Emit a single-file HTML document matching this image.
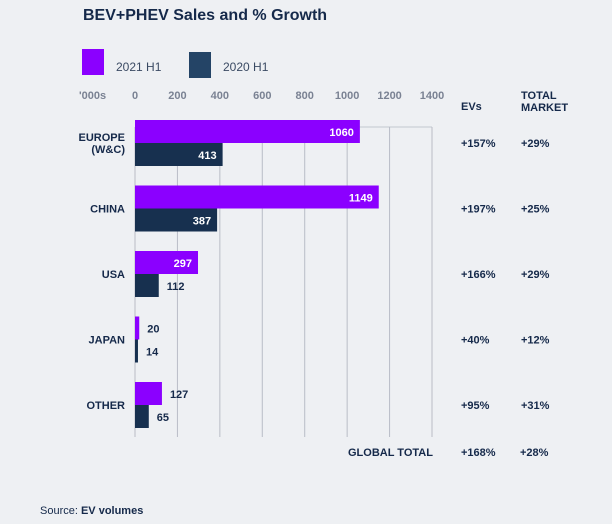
<!DOCTYPE html>
<html><head><meta charset="utf-8"><style>
html,body{margin:0;padding:0;background:#eef0f3;overflow:hidden;width:612px;height:524px;}
svg{display:block;}
svg text{font-family:"Liberation Sans",sans-serif;}
</style></head><body>
<svg width="612" height="524" id="c">
<rect width="612" height="524" fill="#eef0f3"/>
<text x="83" y="20" font-size="16" font-weight="bold" fill="#15294a">BEV+PHEV Sales and % Growth</text>
<rect x="82" y="49" width="22" height="26" fill="#8b00ff"/>
<text x="116" y="71" font-size="12" fill="#3a4a63">2021 H1</text>
<rect x="189" y="52" width="22" height="26" fill="#244466"/>
<text x="223" y="71" font-size="12" fill="#3a4a63">2020 H1</text>
<text x="79" y="99" font-size="11" font-weight="bold" fill="#7a8293">'000s</text>
<text x="461" y="110" font-size="11" font-weight="bold" fill="#15294a">EVs</text>
<text x="521" y="99" font-size="11" font-weight="bold" fill="#15294a"><tspan x="521">TOTAL</tspan><tspan x="521" dy="12">MARKET</tspan></text>
<g id="grid"></g><g id="bars"></g>
<text x="348" y="456" font-size="11" font-weight="bold" fill="#15294a">GLOBAL TOTAL</text>
<text x="461" y="456" font-size="11" font-weight="bold" fill="#15294a">+168%</text>
<text x="520" y="456" font-size="11" font-weight="bold" fill="#15294a">+28%</text>
<text x="40" y="514" font-size="11" fill="#15294a">Source: <tspan font-weight="bold">EV volumes</tspan></text>
</svg>
<script>
const categories=["EUROPE|(W&C)","CHINA","USA","JAPAN","OTHER"];
const sales2021=[1060,1149,297,20,127];
const sales2020=[413,387,112,14,65];
const evGrowth=["+157%","+197%","+166%","+40%","+95%"];
const marketGrowth=["+29%","+25%","+29%","+12%","+31%"];
const ticks=[0,200,400,600,800,1000,1200,1400];
const NS="http://www.w3.org/2000/svg";
const x0=135,xs=(432-135)/1400;
const X=v=>x0+v*xs;
const plotTop=127,plotBottom=437,g0=120,gStep=65.5,bh=23;
function el(tag,a,parent,txt){const e=document.createElementNS(NS,tag);for(const k in a)e.setAttribute(k,a[k]);if(txt!=null)e.textContent=txt;parent.appendChild(e);return e;}
const grid=document.getElementById('grid'),bars=document.getElementById('bars'),svg=document.getElementById('c');
el('line',{x1:x0,x2:X(1400),y1:plotTop,y2:plotTop,stroke:'#c3c7cf','stroke-width':1},grid);
ticks.forEach(t=>{
 const l=el('line',{x1:X(t),x2:X(t),y1:plotTop,y2:plotBottom,stroke:'#b9bdc6','stroke-width':1},grid);
 
 
 const tx=el('text',{x:X(t),y:99,'font-size':11,'font-weight':'bold',fill:'#7a8293','text-anchor':'middle'},svg,String(t));
 
 
});
categories.forEach((c,i)=>{
 const y=g0+i*gStep;
 [[sales2021[i],'#8b00ff',y,'2021'],[sales2020[i],'#17304f',y+bh,'2020']].forEach(([v,col,yy,s])=>{
  const w=Math.max(X(v)-x0,2);
  const r=el('rect',{x:x0,y:yy,width:w,height:bh,fill:col},bars);
  
  
  const inside=v>250;
  const t=el('text',{x:inside?X(v)-6:X(v)+8,y:yy+16,'font-size':11,'font-weight':'bold',fill:inside?'#fff':'#15294a','text-anchor':inside?'end':'start'},bars,String(v));
  
  
 });
 const parts=c.split('|');
 const ly=y+bh+4-(parts.length-1)*6;
 const lab=el('text',{x:125,y:ly,'font-size':11,'font-weight':'bold',fill:'#15294a','text-anchor':'end'},svg);
 
 
 parts.forEach((p,j)=>el('tspan',{x:125,dy:j?12:0},lab,p));
 const e=el('text',{x:461,y:y+bh+4,'font-size':11,'font-weight':'bold',fill:'#15294a'},svg,evGrowth[i]);
 
 
 const m=el('text',{x:521,y:y+bh+4,'font-size':11,'font-weight':'bold',fill:'#15294a'},svg,marketGrowth[i]);
 
 
});
</script>
</body></html>
